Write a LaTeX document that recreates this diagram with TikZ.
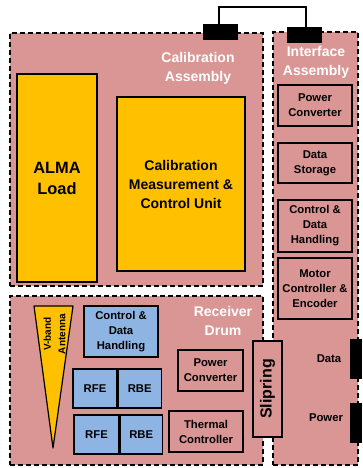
\documentclass[tikz,border=0pt]{standalone}
\usepackage{fontspec}
\setmainfont{Liberation Sans}
\usetikzlibrary{positioning}
\definecolor{drumpink}{HTML}{D99694}
\definecolor{loadyellow}{HTML}{FFC000}
\definecolor{unitblue}{HTML}{8EB4E3}
\tikzset{
    assembly/.style={draw, fill=drumpink, line width=1.2pt, dash pattern=on 5pt off 3pt, inner sep=0pt},
    title/.style={text=white, align=center, font=\fontsize{14}{19}\selectfont\bfseries},
    unit/.style={draw, line width=1.2pt, inner sep=0pt, align=center, font=\fontsize{11.3}{15}\selectfont\bfseries},
    plug/.style={fill=black, inner sep=0pt},
}
\begin{document}
\begin{tikzpicture}[x=1pt, y=-1pt]
        \useasboundingbox (0,0) rectangle (362,468);
        % the three dashed assemblies
        \node[assembly, minimum width=253, minimum height=253] (calasm) at (136.5,159.5) {};
        \node[assembly, minimum width=253, minimum height=169] (drum) at (136.5,380.5) {};
        \node[assembly, minimum width=85, minimum height=433] (ifasm) at (315.5,248.5) {};

        % The labels of the assemblies
        \node[title] (caltitle) at (198,68.5) {Calibration\\Assembly};
        \node[title] (iftitle) at (316,62.5) {Interface\\Assembly};
        \node[title] (drumtitle) at (223,321) {Receiver\\Drum};

        % the plugs on top and the cable between them
        \node[plug, minimum width=35, minimum height=16] (calplug) at (220.5,32) {};
        \node[plug, minimum width=35, minimum height=16] (ifplug) at (304.5,35) {};
        \coordinate (cabletop) at (306,7);
        \draw[line width=2.8pt] ([xshift=-1.5pt]calplug.north) |- (cabletop) -- (cabletop |- ifplug.north);

        % the yellow boxes in the Calibration Assembly
        \node[unit, fill=loadyellow, minimum width=80, minimum height=208,
              font=\fontsize{16.4}{21}\selectfont\bfseries] (almaload) at (57,178) {ALMA\\Load};
        \node[unit, fill=loadyellow, minimum width=128, minimum height=174,
              font=\fontsize{14}{19}\selectfont\bfseries] (cmcu) at (181,184) {Calibration\\Measurement \&\\Control Unit};

        % the boxes in the Interface Assembly
        \node[unit, minimum width=74, minimum height=41] (ifpower) at (315,105.5) {Power\\Converter};
        \node[unit, minimum width=74, minimum height=40] (ifstore) at (315,163) {Data\\Storage};
        \node[unit, minimum width=74, minimum height=52] (ifcdh) at (315,226) {Control \&\\Data\\Handling};
        \node[unit, minimum width=74, minimum height=61] (ifmotor) at (315,288.5) {Motor\\Controller \&\\Encoder};

        % the Data and Power ports on the right
        \node[plug, minimum width=12, minimum height=40] (dataplug) at (356,359) {};
        \node[plug, minimum width=12, minimum height=40] (powerplug) at (356,423) {};
        \node[unit, draw=none] (datalabel) at (329,359) {Data};
        \node[unit, draw=none] (powerlabel) at (326,418) {Power};

        % the V-band antenna
        \draw[fill=loadyellow, line width=1.2pt, line join=round] (34,306) -- (73,306) -- (53,448) -- cycle;
        \node[rotate=90, align=center, inner sep=0pt, font=\fontsize{10}{14.5}\selectfont\bfseries] (antenna) at (54.5,334) {V-band\\Antenna};

        % the blue boxes in the Receiver Drum
        \node[unit, fill=unitblue, minimum width=74, minimum height=51] (drumcdh) at (121,331.5) {Control \&\\Data\\Handling};
        \node[unit, fill=unitblue, minimum width=44, minimum height=39] (rfeone) at (95,388.5) {RFE};
        \node[unit, fill=unitblue, minimum width=43, minimum height=39, right=0pt of rfeone] (rbeone) {RBE};
        \node[unit, fill=unitblue, minimum width=45, minimum height=39] (rfetwo) at (96.5,434.5) {RFE};
        \node[unit, fill=unitblue, minimum width=42, minimum height=39, right=0pt of rfetwo] (rbetwo) {RBE};

        % the pink boxes in the Receiver Drum
        \node[unit, minimum width=65, minimum height=41] (drumpower) at (210.5,370.5) {Power\\Converter};
        \node[unit, minimum width=74, minimum height=41] (thermal) at (206,431.5) {Thermal\\Controller};

        % the slipring between drum and interface
        \node[unit, minimum width=29, minimum height=96, fill=drumpink] (slipring) at (267.5,389) {};
        \node[rotate=90, inner sep=0pt, font=\fontsize{16}{19}\selectfont\bfseries] (sliptext) at (slipring) {Slipring};
    \end{tikzpicture}
\end{document}
